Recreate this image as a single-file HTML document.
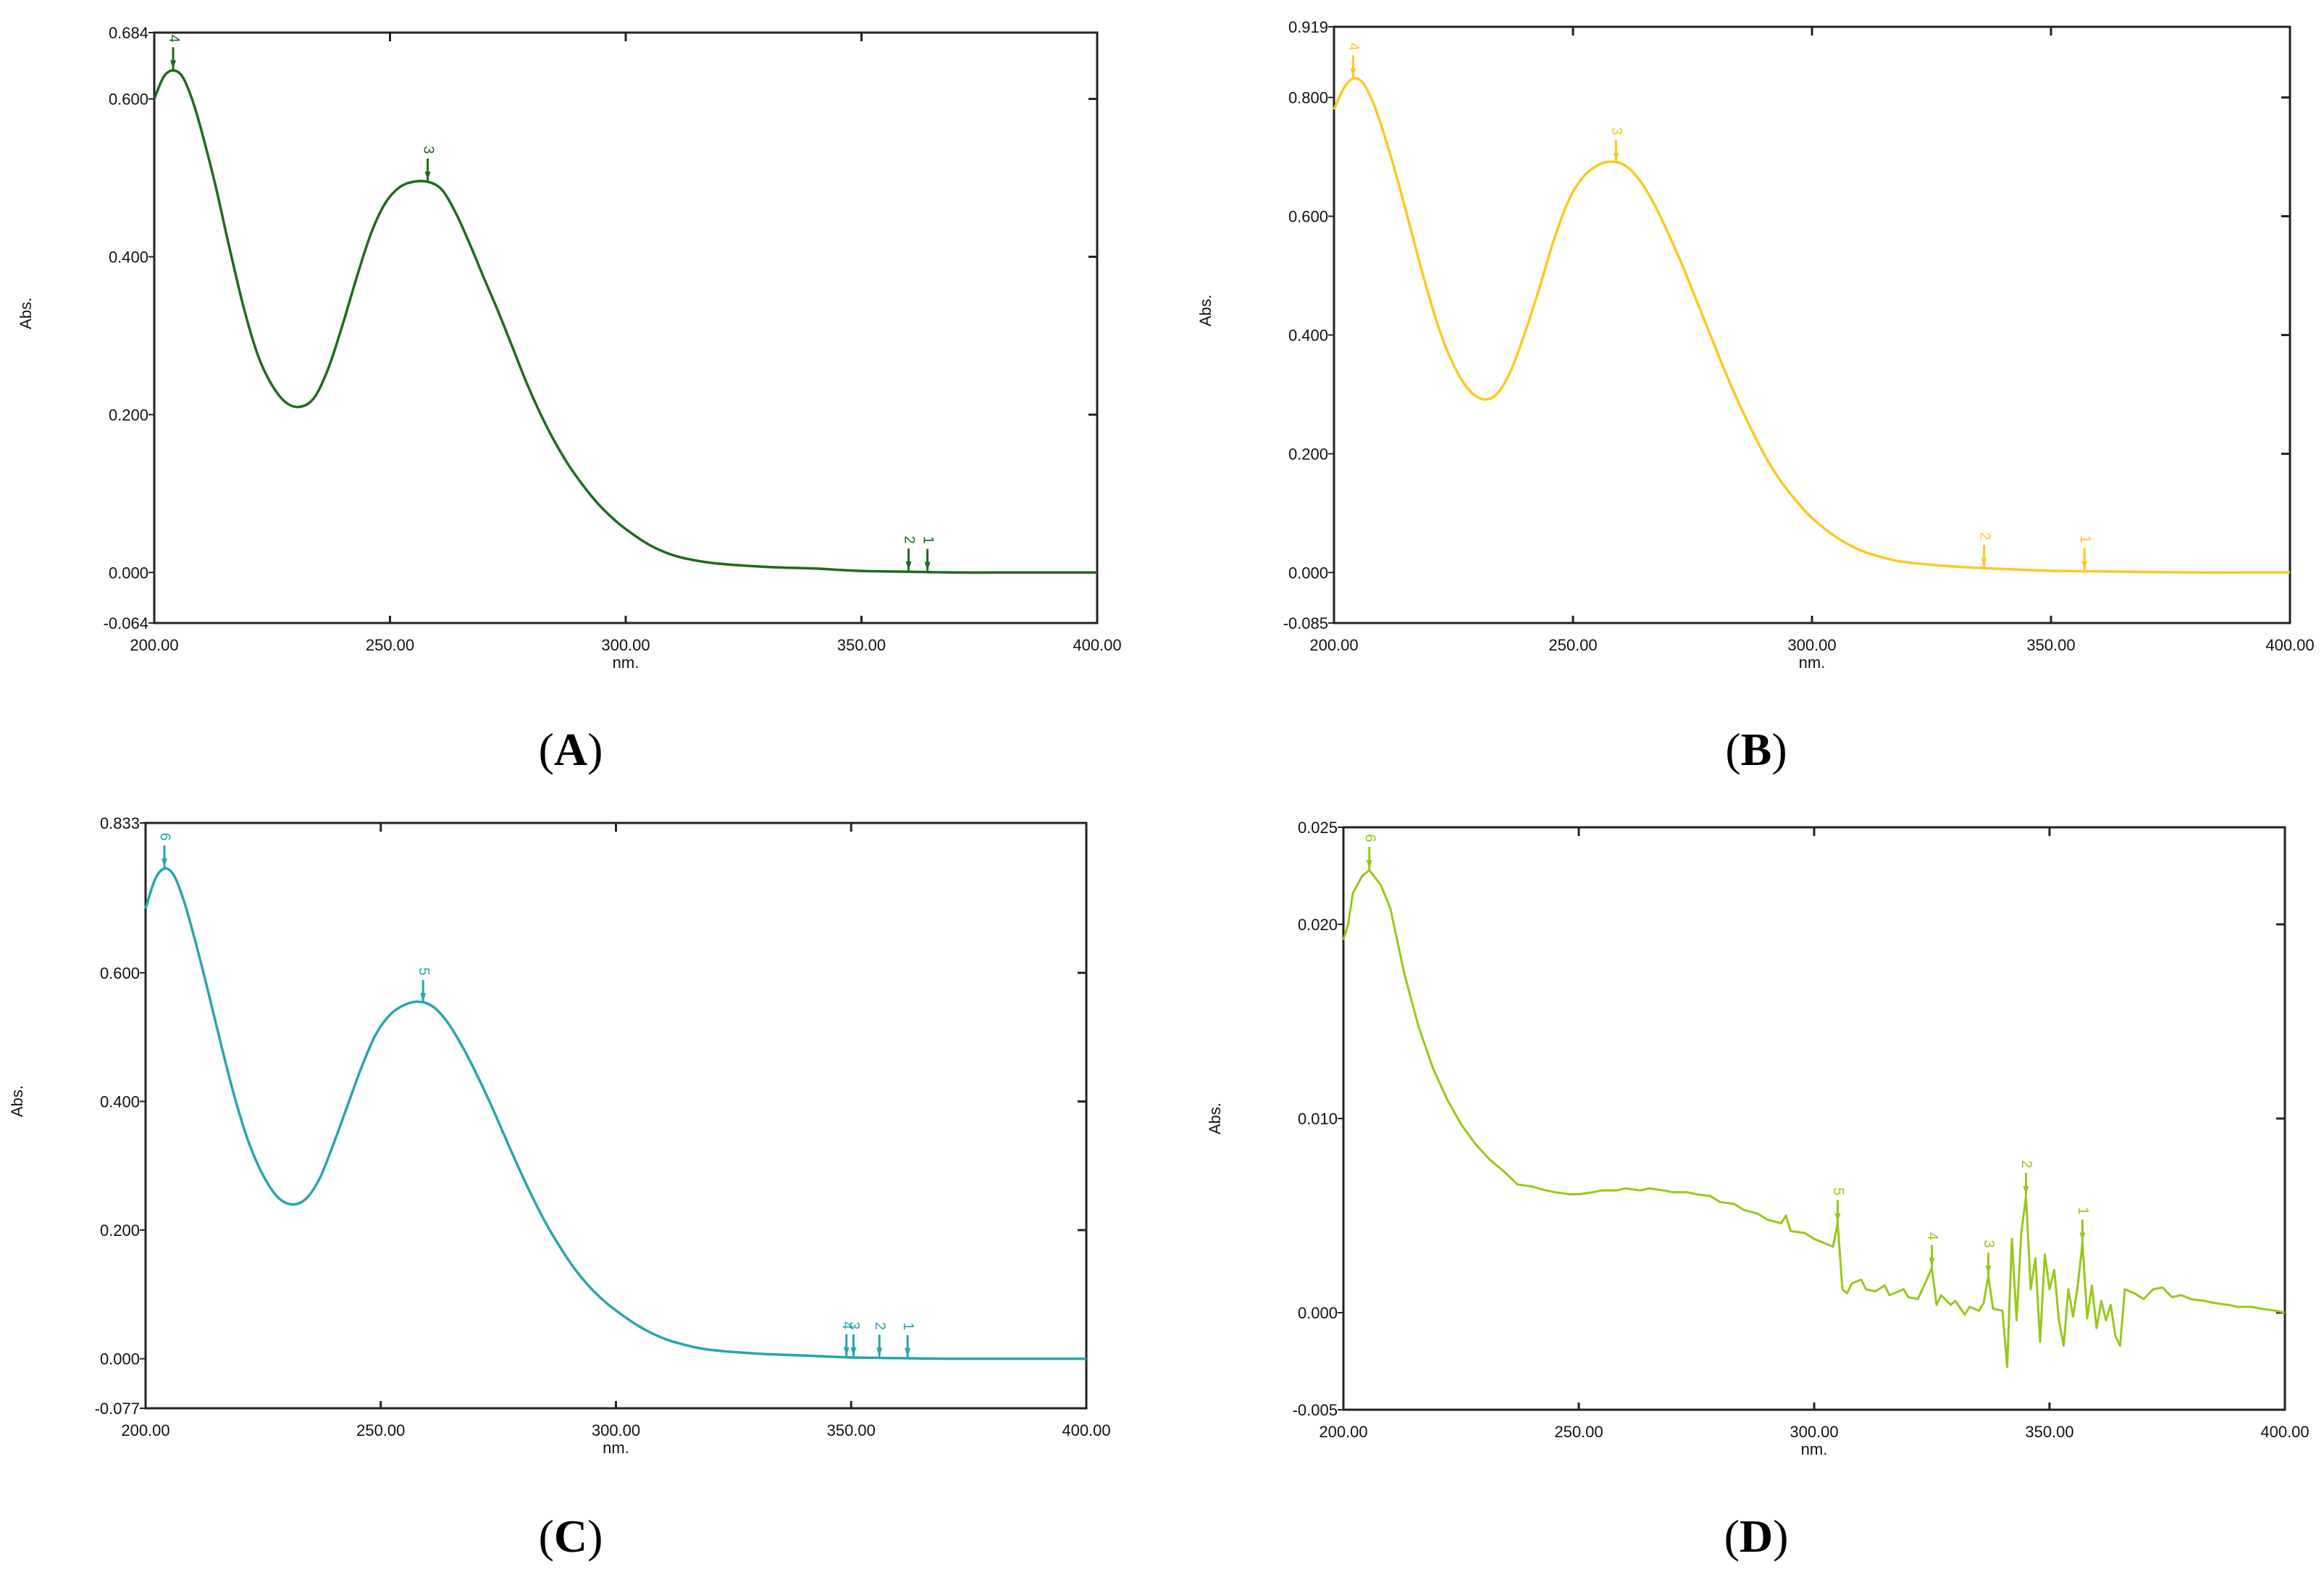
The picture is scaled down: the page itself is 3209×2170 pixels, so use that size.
<!DOCTYPE html>
<html><head><meta charset="utf-8"><style>
html,body{margin:0;padding:0;background:#fff;}
svg{display:block;}
text{font-family:"Liberation Sans",sans-serif;}
.cap{font-family:"Liberation Serif",serif;font-size:64px;}
</style></head><body>
<svg id="fig" width="3209" height="2170" viewBox="0 0 3209 2170">
<text class="cap" x="788" y="1056" text-anchor="middle">(<tspan font-weight="bold">A</tspan>)</text>
<text class="cap" x="2425" y="1056" text-anchor="middle">(<tspan font-weight="bold">B</tspan>)</text>
<text class="cap" x="788" y="2142" text-anchor="middle">(<tspan font-weight="bold">C</tspan>)</text>
<text class="cap" x="2425" y="2142" text-anchor="middle">(<tspan font-weight="bold">D</tspan>)</text>
</svg>
<script>
const wl = [200,202,204,206,208,210,213,216,219,222,225,228,231,234,237,240,243,246,249,252,255,258,261,264,267,270,273,276,279,282,285,288,291,294,297,300,305,310,315,320,330,340,350,360,370,380,390,400];
const absA = [.600,.628,.636,.628,.600,.560,.490,.410,.335,.275,.237,.215,.210,.222,.260,.315,.375,.430,.468,.488,.495,.495,.485,.455,.415,.372,.330,.285,.240,.200,.165,.135,.110,.088,.070,.055,.035,.022,.015,.011,.007,.005,.002,.001,0,0,0,0];
const absB = [.780,.815,.832,.825,.795,.750,.670,.580,.490,.410,.350,.310,.292,.300,.340,.405,.480,.560,.625,.665,.685,.692,.685,.660,.620,.570,.515,.455,.395,.335,.280,.230,.185,.148,.118,.092,.060,.038,.025,.017,.010,.006,.003,.002,.001,0,0,0];
const absC = [.700,.745,.762,.752,.715,.665,.580,.490,.405,.335,.285,.252,.240,.248,.280,.335,.395,.455,.505,.535,.550,.555,.548,.525,.490,.448,.402,.352,.302,.255,.212,.175,.142,.115,.093,.075,.050,.032,.021,.014,.008,.005,.002,.001,0,0,0,0];
const wlD = [200,201,202,204,205.5,208,210,213,216,219,222,225,228,231,234,237,240,243,245,248,250,253,255,258,260,263,265,268,270,273,275,278,280,283,285,288,290,293,294,295,298,300,302,304,305,306,307,308,310,311,313,315,316,318,319,320,322,323,325,326,327,329,330,332,333,335,336,337,338,340,341,342,343,344,345,346,347,348,349,350,351,352,353,354,355,356,357,358,359,360,361,362,363,364,365,366,368,370,372,374,376,378,380,383,385,388,390,393,395,398,400];
const absD = [.0192,.0200,.0216,.0225,.0228,.0220,.0208,.0174,.0147,.0126,.0110,.0097,.0087,.0079,.0073,.0066,.0065,.0063,.0062,.0061,.0061,.0062,.0063,.0063,.0064,.0063,.0064,.0063,.0062,.0062,.0061,.0060,.0057,.0056,.0053,.0051,.0048,.0046,.0050,.0042,.0041,.0038,.0036,.0034,.0046,.0012,.0010,.0015,.0017,.0012,.0011,.0014,.0009,.0011,.0012,.0008,.0007,.0012,.0023,.0004,.0009,.0004,.0006,-.0001,.0003,.0001,.0005,.0019,.0002,.0001,-.0028,.0038,-.0004,.0041,.0060,.0012,.0028,-.0015,.0030,.0012,.0022,-.0004,-.0017,.0012,-.0002,.0014,.0036,-.0003,.0014,-.0008,.0006,-.0004,.0004,-.0012,-.0017,.0012,.0010,.0007,.0012,.0013,.0008,.0009,.0007,.0006,.0005,.0004,.0003,.0003,.0002,.0001,0];
const ytA = ["0.684","0.600","0.400","0.200","0.000","-0.064"];
const ytB = ["0.919","0.800","0.600","0.400","0.200","0.000","-0.085"];
const ytC = ["0.833","0.600","0.400","0.200","0.000","-0.077"];
const ytD = ["0.025","0.020","0.010","0.000","-0.005"];
const xticks = [200,250,300,350,400];
const peakWlA = [204,258,360,364], peakLblA = ["4","3","2","1"];
const peakWlB = [204,259,336,357], peakLblB = ["4","3","2","1"];
const peakWlC = [204,259,349,350.5,356,362], peakLblC = ["6","5","4","3","2","1"];
const peakWlD = [205.5,305,325,337,345,357], peakLblD = ["6","5","4","3","2","1"];

const NS = "http://www.w3.org/2000/svg";
const svg = document.getElementById('fig');
function mk(tag, attrs, parent){const e=document.createElementNS(NS,tag);for(const k in attrs)e.setAttribute(k,attrs[k]);(parent||svg).appendChild(e);return e;}
function interp(xs,ys,x){for(let i=0;i<xs.length-1;i++){if(x>=xs[i]&&x<=xs[i+1]){const t=(x-xs[i])/(xs[i+1]-xs[i]);return ys[i]+t*(ys[i+1]-ys[i]);}}return ys[ys.length-1];}

function panel(id,L,R,T,B,ymax,ymin,yt,xs,ys,col,smooth,pw,pl){
  const g = mk('g',{});
  
  
  const sx = v => L + (v-200)/200*(R-L);
  const sy = v => T + (ymax-v)/(ymax-ymin)*(B-T);
  const frame = mk('rect',{x:L,y:T,width:R-L,height:B-T,fill:'none',stroke:'#222','stroke-width':3},g);
  
  
  yt.forEach(s=>{
    const v=parseFloat(s), y=sy(v);
    mk('line',{x1:L-8,x2:L,y1:y,y2:y,stroke:'#222','stroke-width':2},g);
    if(v!==ymax && v!==ymin) mk('line',{x1:R-12,x2:R,y1:y,y2:y,stroke:'#222','stroke-width':3},g);
    const t=mk('text',{x:L-8,y:y+8,'text-anchor':'end','font-size':22,fill:'#111'},g);
    t.textContent=s;
    
    
  });
  xticks.forEach(v=>{
    const x=sx(v);
    if(v!==200&&v!==400){mk('line',{x1:x,x2:x,y1:T,y2:T+12,stroke:'#222','stroke-width':3},g);mk('line',{x1:x,x2:x,y1:B,y2:B-10,stroke:'#222','stroke-width':3},g);}
    const t=mk('text',{x:x,y:B+38,'text-anchor':'middle','font-size':22,fill:'#111'},g);
    t.textContent=v.toFixed(2);
    
    
  });
  const xl=mk('text',{x:(L+R)/2,y:B+62,'text-anchor':'middle','font-size':22,fill:'#111'},g);
  xl.textContent='nm.';
  
  
  const yx=L-170, yy=(T+B)/2-(id==='d'?0:20);
  const yl=mk('text',{x:yx,y:yy,'text-anchor':'middle','font-size':22,fill:'#111',transform:`rotate(-90 ${yx} ${yy})`},g);
  yl.textContent='Abs.';
  
  
  // curve
  const P = xs.map((x,i)=>[sx(x),sy(ys[i])]);
  let d='M'+P[0][0].toFixed(1)+','+P[0][1].toFixed(1);
  for(let i=0;i<P.length-1;i++){
    if(smooth){
      const p0=P[Math.max(0,i-1)],p1=P[i],p2=P[i+1],p3=P[Math.min(P.length-1,i+2)];
      const c1=[p1[0]+(p2[0]-p0[0])/6,p1[1]+(p2[1]-p0[1])/6];
      const c2=[p2[0]-(p3[0]-p1[0])/6,p2[1]-(p3[1]-p1[1])/6];
      d+=`C${c1[0].toFixed(1)},${c1[1].toFixed(1)} ${c2[0].toFixed(1)},${c2[1].toFixed(1)} ${p2[0].toFixed(1)},${p2[1].toFixed(1)}`;
    } else d+='L'+P[i+1][0].toFixed(1)+','+P[i+1][1].toFixed(1);
  }
  const path=mk('path',{d:d,fill:'none',stroke:col,'stroke-width':smooth?3.5:3,'stroke-linejoin':'round'},g);
  
  
  // peaks
  pw.forEach((w,i)=>{
    const x=sx(w), y=sy(interp(xs,ys,w));
    const m=mk('g',{},g);
    
    
    mk('line',{x1:x,x2:x,y1:y-32,y2:y,stroke:col,'stroke-width':3},m);
    mk('path',{d:`M${x-4},${y-14} L${x+4},${y-14} L${x},${y-2} Z`,fill:col},m);
    const t=mk('text',{x:x,y:y-44,'text-anchor':'middle','font-size':20,fill:col,transform:`rotate(90 ${x} ${y-44})`,'dominant-baseline':'middle'},m);
    t.textContent=pl[i];
  });
}
panel('a',213,1515,45,860,0.684,-0.064,ytA,wl,absA,'#1d6b1d',true,peakWlA,peakLblA);
panel('b',1842,3162,37,860,0.919,-0.085,ytB,wl,absB,'#ffc820',true,peakWlB,peakLblB);
panel('c',201,1500,1136,1944,0.833,-0.077,ytC,wl,absC,'#27a5ae',true,peakWlC,peakLblC);
panel('d',1855,3155,1142,1946,0.025,-0.005,ytD,wlD,absD,'#98c81a',false,peakWlD,peakLblD);
</script>
</body></html>
